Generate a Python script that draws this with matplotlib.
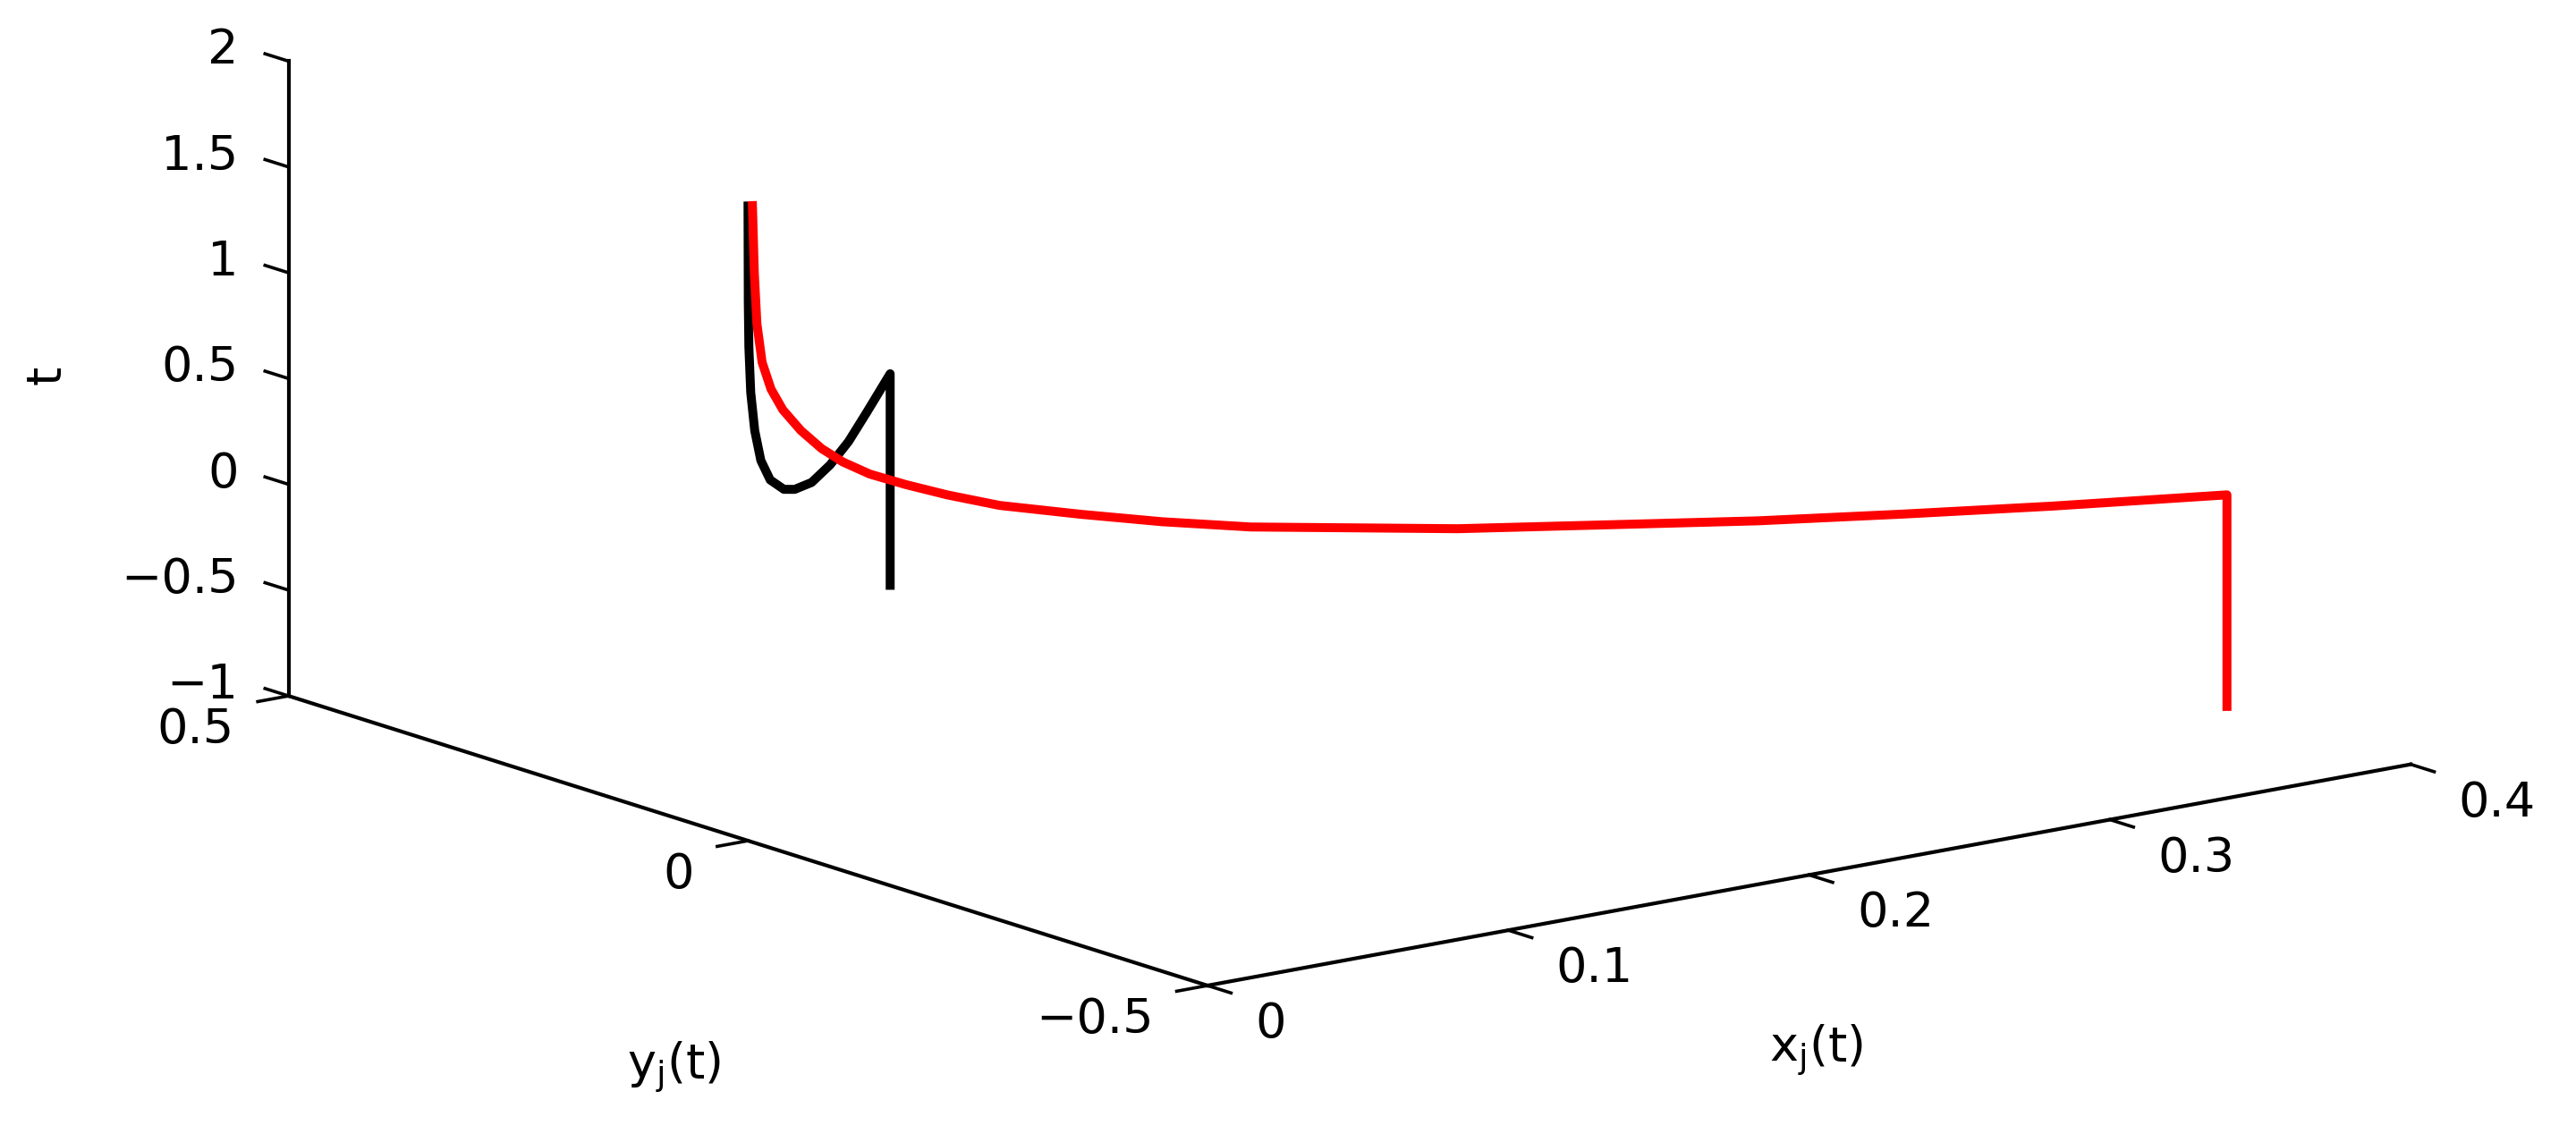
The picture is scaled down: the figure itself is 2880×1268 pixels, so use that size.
import numpy as np
import matplotlib
matplotlib.use("Agg")
import matplotlib.pyplot as plt
from mpl_toolkits.mplot3d import proj3d

# black trajectory: constant history on [-1, 0], then decay to the origin
t_black = [-1.0, 0.0, 0.016, 0.033, 0.079, 0.153, 0.264, 0.356, 0.517, 0.688,
           0.881, 1.096, 1.326, 1.54, 2.0]
x_black = [0.2, 0.2, 0.1671, 0.1414, 0.1155, 0.0895, 0.0657, 0.0505, 0.0312, 0.0181,
           0.0095, 0.0038, 0.0012, 0.0004, 0.0]
y_black = [0.5, 0.5, 0.4178, 0.3535, 0.2888, 0.2238, 0.1643, 0.1263, 0.078, 0.0453,
           0.0238, 0.0095, 0.003, 0.001, 0.0]

# red trajectory
t_red = [-1.0, 0.0, 0.022, 0.048, 0.079, 0.124, 0.17, 0.267, 0.33, 0.40, 0.477,
         0.549, 0.616, 0.681, 0.75, 0.822, 0.916, 1.022, 1.125, 1.255, 1.44, 1.68, 2.0]
x_red = [0.4, 0.4, 0.353, 0.313, 0.273, 0.233, 0.192, 0.136, 0.112, 0.090, 0.068,
         0.0539, 0.0426, 0.0329, 0.0256, 0.0199, 0.0143, 0.0094, 0.0062, 0.0038,
         0.0024, 0.0017, 0.0012]
y_red = [-0.3, -0.3, -0.265, -0.235, -0.205, -0.175, -0.144, -0.102, -0.084, -0.0675,
         -0.051, -0.0404, -0.032, -0.0247, -0.0192, -0.0149, -0.0107, -0.0071, -0.0047,
         -0.0029, -0.0018, -0.0013, -0.0009]

x_ticks = [0, 0.1, 0.2, 0.3, 0.4]
x_tick_labels = ["0", "0.1", "0.2", "0.3", "0.4"]
y_ticks = [-0.5, 0, 0.5]
y_tick_labels = ["\u22120.5", "0", "0.5"]
z_ticks = [-1, -0.5, 0, 0.5, 1, 1.5, 2]
z_tick_labels = ["\u22121", "\u22120.5", "0", "0.5", "1", "1.5", "2"]

W, H, DPI = 2880, 1268, 200
plt.rcParams["font.family"] = ["DejaVu Sans"]
plt.rcParams["font.size"] = 19.5

fig = plt.figure(figsize=(W / DPI, H / DPI), dpi=DPI)
ax = fig.add_axes([0, 0, 1, 1], projection="3d", proj_type="ortho")

ax.plot(x_black, y_black, t_black, color="black", lw=3.6)
ax.plot(x_red, y_red, t_red, color="red", lw=3.6)

ax.set_xlim(0, 0.4)
ax.set_ylim(-0.5, 0.5)
ax.set_zlim(-1, 2)
ax.set_xticks(x_ticks)
ax.set_yticks(y_ticks)
ax.set_zticks(z_ticks)

ax.set_box_aspect((1, 1, 0.432))
ax.view_init(elev=13.93, azim=-127.37)
ax.grid(False)
for axis in (ax.xaxis, ax.yaxis, ax.zaxis):
    axis.set_pane_color((1, 1, 1, 0))
    axis.pane.set_edgecolor((1, 1, 1, 0))
    axis.line.set_color("black")
    axis.line.set_linewidth(1.5)
    axis.set_tick_params(labelbottom=False)
    axis.label.set_visible(False)
    axis._axinfo["tick"]["linewidth"] = {True: 1.3, False: 0.5}
for axis in (ax.xaxis, ax.yaxis):
    axis._axinfo["tick"]["inward_factor"] = 0.32
    axis._axinfo["tick"]["outward_factor"] = 0.0
# z ticks point along the y direction, as in MATLAB
ax.zaxis._get_tickdir = lambda *args: 1
ax.zaxis._axinfo["tick"]["inward_factor"] = 0.0
ax.zaxis._axinfo["tick"]["outward_factor"] = 0.32


def to_px(px, py, pz):
    xs, ys, _ = proj3d.proj_transform(px, py, pz, ax.get_proj())
    return np.array(ax.transData.transform((xs, ys)))


# place the box so its corners land where the original figure has them
fig.canvas.draw()
p0 = to_px(0, -0.5, -1)
p1 = to_px(0, 0.5, 2)
bb = ax.bbox
c = np.array([bb.x0 + bb.width / 2, bb.y0 + bb.height / 2])
t0 = np.array([1350, H - 1102])
t1 = np.array([322, H - 69])
f = np.linalg.norm(t1 - t0) / np.linalg.norm(p1 - p0)
side = bb.width * f
nc = t0 - f * (p0 - c)
ax.set_position([(nc[0] - side / 2) / W, (nc[1] - side / 2) / H, side / W, side / H])
fig.canvas.draw()


def label_at(px, py, pz, s, **kw):
    u, v = to_px(px, py, pz)
    fig.text(u / W, v / H, s, **kw)


# tick labels, MATLAB style (outside the box, next to the tick marks)
for xt, s in zip(x_ticks, x_tick_labels):
    label_at(xt, -0.552, -1.111, s, ha="left", va="center")
for yt, s in zip(y_ticks, y_tick_labels):
    label_at(-0.018, yt, -1.114, s, ha="right", va="center")
for zt, s in zip(z_ticks, z_tick_labels):
    label_at(0, 0.5545, zt - 0.024, s, ha="right", va="center")

fig.text(0.018, 0.669, "t", rotation=90, ha="center", va="center")
fig.text(0.2615, 0.058, r"$\mathregular{y_j(t)}$", ha="center", va="center")
fig.text(0.705, 0.073, r"$\mathregular{x_j(t)}$", ha="center", va="center")

fig.savefig("out.png", dpi=DPI)
